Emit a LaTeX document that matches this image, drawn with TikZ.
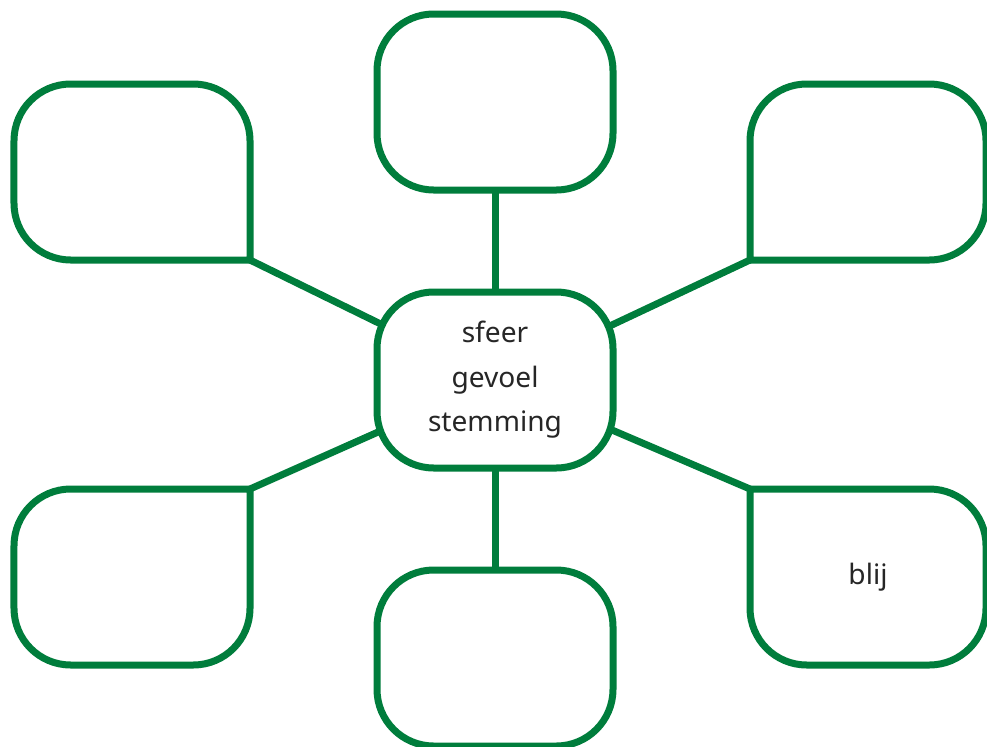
\documentclass[tikz,border=0pt]{standalone}
\usepackage{fontspec}
\setmainfont{Noto Sans}

\definecolor{leaf}{RGB}{0,125,60}
\def\boxrad{17mm}

\pgfdeclarelayer{links}
\pgfdeclarelayer{cards}
\pgfsetlayers{links,cards,main}

\tikzset{
  bubble/.style={draw=leaf, line width=2.1mm, fill=white, rounded corners=\boxrad,
    minimum width=70.8mm, minimum height=52.8mm, inner sep=0pt, outer sep=0pt,
    align=center, text=black!85, font=\fontsize{24}{38}\selectfont},
  card/.style={bubble, draw=none, fill=none},
  outline/.style={draw=leaf, line width=2.1mm, fill=white},
  link/.style={draw=leaf, line width=2.1mm}
}

\begin{document}
\begin{tikzpicture}[x=0.3mm, y=-0.3mm]
        \useasboundingbox (0,0) rectangle (987,746);
        % middle word
        \node[bubble] (mid) at (495,380) {sfeer\\gevoel\\stemming};
        % boxes above and below
        \node[bubble] (top) at (495,102) {};
        \node[bubble] (bot) at (495,658) {};
        % corner boxes, drawn below with one sharp corner
        \node[card] (nw) at (132,172) {};
        \node[card] (ne) at (868,172) {};
        \node[card] (sw) at (132,577) {};
        \node[card] (se) at (868,577) {blij};
        \begin{pgfonlayer}{cards}
        % top left
        \filldraw[outline] (nw.south east) -- ([xshift=\boxrad]nw.south west) arc[start angle=270, end angle=180, radius=\boxrad]
            -- ([yshift=-\boxrad]nw.north west) arc[start angle=180, end angle=90, radius=\boxrad]
            -- ([xshift=-\boxrad]nw.north east) arc[start angle=90, end angle=0, radius=\boxrad] -- cycle;
        % top right
        \filldraw[outline] (ne.south west) -- ([yshift=-\boxrad]ne.north west) arc[start angle=180, end angle=90, radius=\boxrad]
            -- ([xshift=-\boxrad]ne.north east) arc[start angle=90, end angle=0, radius=\boxrad]
            -- ([yshift=\boxrad]ne.south east) arc[start angle=0, end angle=-90, radius=\boxrad] -- cycle;
        % bottom left
        \filldraw[outline] (sw.north east) -- ([xshift=\boxrad]sw.north west) arc[start angle=90, end angle=180, radius=\boxrad]
            -- ([yshift=\boxrad]sw.south west) arc[start angle=180, end angle=270, radius=\boxrad]
            -- ([xshift=-\boxrad]sw.south east) arc[start angle=270, end angle=360, radius=\boxrad] -- cycle;
        % bottom right
        \filldraw[outline] (se.north west) -- ([xshift=-\boxrad]se.north east) arc[start angle=90, end angle=0, radius=\boxrad]
            -- ([yshift=\boxrad]se.south east) arc[start angle=0, end angle=-90, radius=\boxrad]
            -- ([xshift=\boxrad]se.south west) arc[start angle=270, end angle=180, radius=\boxrad] -- cycle;
        \end{pgfonlayer}
        % spokes, hidden under the boxes
        \begin{pgfonlayer}{links}
        \draw[link] (top.south) -- (mid.north);
        \draw[link] (mid.south) -- (bot.north);
        \draw[link] (nw.south east) -- (mid.center);
        \draw[link] (ne.south west) -- (mid.center);
        \draw[link] (sw.north east) -- (mid.center);
        \draw[link] (se.north west) -- (mid.center);
        \end{pgfonlayer}
    \end{tikzpicture}
\end{document}
